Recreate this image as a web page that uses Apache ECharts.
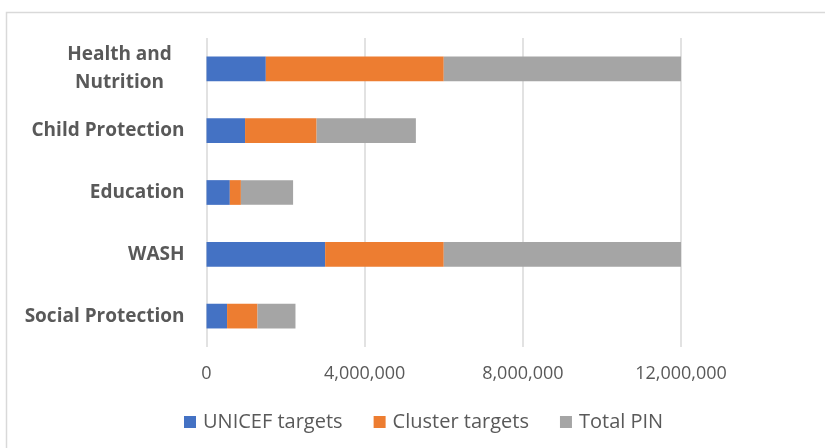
<!DOCTYPE html>
<html>
<head>
<meta charset="utf-8">
<script src="https://cdn.jsdelivr.net/npm/echarts@6/dist/echarts.min.js"></script>
<style>
html,body{margin:0;padding:0;background:#fff;}
#chart{width:825px;height:448px;}
</style>
</head>
<body>
<div id="chart"></div>
<script>
const categories = ['Health and Nutrition', 'Child Protection', 'Education', 'WASH', 'Social Protection'];
const unicefTargets = [1500000, 975000, 590000, 3000000, 520000];
const clusterTargets = [4500000, 1810000, 280000, 3000000, 770000];
const totalPIN = [6000000, 2510000, 1320000, 6000000, 960000];
const seriesNames = ['UNICEF targets', 'Cluster targets', 'Total PIN'];
const xTicks = { min: 0, max: 12000000, interval: 4000000 };

const chart = echarts.init(document.getElementById('chart'), null, { renderer: 'canvas' });
const FONT = '"Open Sans", "Noto Sans", sans-serif';
const colors = ['#4472C4', '#ED7D31', '#A5A5A5'];
const values = [unicefTargets, clusterTargets, totalPIN];

function fmt(v) {
  return String(v).replace(/\B(?=(\d{3})+(?!\d))/g, ',');
}

chart.setOption({
  animation: false,
  backgroundColor: '#fff',
  graphic: [{
    type: 'rect',
    shape: { x: 6.5, y: 12.5, width: 900, height: 500 },
    style: { fill: 'none', stroke: '#d9d9d9', lineWidth: 1.5 },
    silent: true
  }],
  grid: { left: 206.5, right: 144, top: 38, bottom: 101, containLabel: false },
  legend: {
    data: seriesNames,
    bottom: 11,
    left: 179,
    icon: 'rect',
    itemWidth: 12,
    itemHeight: 12,
    itemGap: 31,
    textStyle: { fontFamily: FONT, fontSize: 20, color: '#595959', padding: [0, 0, 0, 2] }
  },
  xAxis: {
    type: 'value',
    min: xTicks.min,
    max: xTicks.max,
    interval: xTicks.interval,
    axisLine: { show: false },
    axisTick: { show: false },
    splitLine: { lineStyle: { color: '#d9d9d9', width: 1.5 } },
    axisLabel: {
      margin: 18,
      fontFamily: FONT,
      fontSize: 18,
      color: '#595959',
      formatter: fmt
    }
  },
  yAxis: {
    type: 'category',
    data: categories,
    inverse: true,
    axisLine: { show: false },
    axisTick: { show: false },
    axisLabel: {
      margin: 22,
      fontFamily: FONT,
      fontSize: 19,
      fontWeight: 'bold',
      color: '#595959',
      formatter: function (v) {
        if (v === 'Health and Nutrition') return '{h|Health and}\n{h|Nutrition}';
        return v;
      },
      rich: {
        h: {
          width: 130,
          align: 'center',
          fontFamily: FONT,
          fontSize: 19,
          fontWeight: 'bold',
          color: '#595959',
          lineHeight: 28
        }
      }
    }
  },
  series: seriesNames.map((name, i) => ({
    name: name,
    type: 'bar',
    stack: 'total',
    data: values[i],
    barCategoryGap: '60%',
    itemStyle: { color: colors[i] }
  }))
});
</script>
</body>
</html>
